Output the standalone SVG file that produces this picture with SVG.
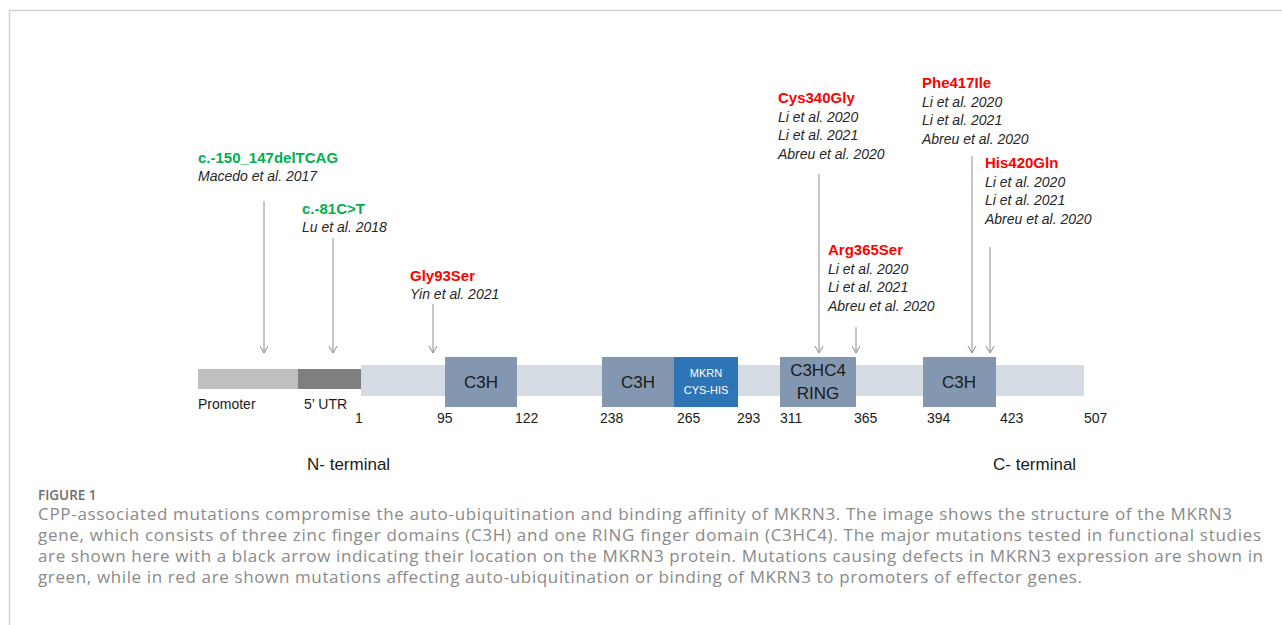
<svg xmlns="http://www.w3.org/2000/svg" width="1282" height="625" viewBox="0 0 1282 625">
<defs>
<marker id="ah" markerWidth="10" markerHeight="10" refX="8" refY="5" orient="auto" markerUnits="userSpaceOnUse" viewBox="0 0 10 10">
<path d="M1,1 L8,5 L1,9" fill="none" stroke="#8c8c8c" stroke-width="1"/>
</marker>
<style>
.lbl{font-family:"Liberation Sans",Arial,sans-serif}
.mg{font-weight:bold;font-size:15px;fill:#00b050}
.mr{font-weight:bold;font-size:15px;fill:#ff0000}
.ref{font-style:italic;font-size:14px;fill:#262626}
.num{font-size:14px;fill:#1a1a1a}
.dom{font-size:17px;fill:#1a1a1a;text-anchor:middle}
.term{font-size:17px;fill:#1a1a1a}
.cap{font-family:"Open Sans",Lato,sans-serif;font-size:17px;fill:#8a8a8a}
.arr{stroke:#8c8c8c;stroke-width:1;fill:none}
.box{fill:#8497b0}
</style>
</defs>
<rect width="1282" height="625" fill="#ffffff"/>
<path d="M9.5,625 V10.5 H1282" fill="none" stroke="#d3d3d3" stroke-width="1.5"/>

<g id="promoter"><rect x="198" y="369" width="100" height="20" fill="#bfbfbf"/><text class="lbl num" x="198" y="409">Promoter</text></g>
<g id="utr5"><rect x="298" y="369" width="63" height="20" fill="#7f7f7f"/><text class="lbl num" x="304" y="409">5’ UTR</text></g>
<g id="protein"><rect x="361" y="365" width="723" height="31" fill="#d6dce4"/></g>
<g id="c3h1"><rect class="box" x="445" y="357" width="72" height="50"/><text class="lbl dom" x="481" y="388">C3H</text></g>
<g id="c3h2"><rect class="box" x="602" y="357" width="72" height="50"/><text class="lbl dom" x="638" y="388">C3H</text></g>
<g id="mkrn"><rect x="674" y="357" width="64" height="50" fill="#2e75b6"/><text class="lbl" x="706" y="377" font-size="11" fill="#ffffff" text-anchor="middle">MKRN</text><text class="lbl" x="706" y="394" font-size="11" fill="#ffffff" text-anchor="middle">CYS-HIS</text></g>
<g id="ring"><rect class="box" x="780" y="357" width="76" height="50"/><text class="lbl dom" x="818" y="376">C3HC4</text><text class="lbl dom" x="818" y="399">RING</text></g>
<g id="c3h3"><rect class="box" x="923" y="357" width="73" height="50"/><text class="lbl dom" x="959" y="388">C3H</text></g>

<g id="positions">
<text class="lbl num" x="355" y="423">1</text>
<text class="lbl num" x="437" y="423">95</text>
<text class="lbl num" x="515" y="423">122</text>
<text class="lbl num" x="600" y="423">238</text>
<text class="lbl num" x="677" y="423">265</text>
<text class="lbl num" x="737" y="423">293</text>
<text class="lbl num" x="780" y="423">311</text>
<text class="lbl num" x="854" y="423">365</text>
<text class="lbl num" x="927" y="423">394</text>
<text class="lbl num" x="1000" y="423">423</text>
<text class="lbl num" x="1084" y="423">507</text>
</g>

<g id="m1"><text class="lbl mg" x="198" y="163">c.-150_147delTCAG</text><text class="lbl ref" x="198" y="181">Macedo et al. 2017</text></g>
<g id="m2"><text class="lbl mg" x="302" y="214">c.-81C&gt;T</text><text class="lbl ref" x="302" y="232">Lu et al. 2018</text></g>
<g id="m3"><text class="lbl mr" x="410" y="281">Gly93Ser</text><text class="lbl ref" x="410" y="299">Yin et al. 2021</text></g>
<g id="m4"><text class="lbl mr" x="778" y="103">Cys340Gly</text><text class="lbl ref" x="778" y="122">Li et al. 2020</text><text class="lbl ref" x="778" y="140">Li et al. 2021</text><text class="lbl ref" x="778" y="159">Abreu et al. 2020</text></g>
<g id="m5"><text class="lbl mr" x="828" y="255">Arg365Ser</text><text class="lbl ref" x="828" y="274">Li et al. 2020</text><text class="lbl ref" x="828" y="292">Li et al. 2021</text><text class="lbl ref" x="828" y="311">Abreu et al. 2020</text></g>
<g id="m6"><text class="lbl mr" x="922" y="88">Phe417Ile</text><text class="lbl ref" x="922" y="107">Li et al. 2020</text><text class="lbl ref" x="922" y="125">Li et al. 2021</text><text class="lbl ref" x="922" y="144">Abreu et al. 2020</text></g>
<g id="m7"><text class="lbl mr" x="985" y="168">His420Gln</text><text class="lbl ref" x="985" y="187">Li et al. 2020</text><text class="lbl ref" x="985" y="205">Li et al. 2021</text><text class="lbl ref" x="985" y="224">Abreu et al. 2020</text></g>

<g id="connectors">
<line class="arr" x1="264" y1="201" x2="264" y2="353" marker-end="url(#ah)"/>
<line class="arr" x1="333" y1="238" x2="333" y2="353" marker-end="url(#ah)"/>
<line class="arr" x1="433" y1="304" x2="433" y2="353" marker-end="url(#ah)"/>
<line class="arr" x1="819" y1="174" x2="819" y2="353" marker-end="url(#ah)"/>
<line class="arr" x1="856" y1="327" x2="856" y2="353" marker-end="url(#ah)"/>
<line class="arr" x1="972" y1="156" x2="972" y2="353" marker-end="url(#ah)"/>
<line class="arr" x1="990" y1="247" x2="990" y2="353" marker-end="url(#ah)"/>
</g>

<g id="termini">
<text class="lbl term" x="307" y="470">N- terminal</text>
<text class="lbl term" x="993" y="470">C- terminal</text>
</g>

<g id="caption">
<text x="38" y="500" font-family="'Open Sans',sans-serif" font-size="13.5" font-weight="600" fill="#6e6e6e">FIGURE 1</text>
<text class="cap" x="38" y="520" textLength="1194" lengthAdjust="spacing">CPP-associated mutations compromise the auto-ubiquitination and binding affinity of MKRN3. The image shows the structure of the MKRN3</text>
<text class="cap" x="38" y="541" textLength="1223" lengthAdjust="spacing">gene, which consists of three zinc finger domains (C3H) and one RING finger domain (C3HC4). The major mutations tested in functional studies</text>
<text class="cap" x="38" y="562" textLength="1225" lengthAdjust="spacing">are shown here with a black arrow indicating their location on the MKRN3 protein. Mutations causing defects in MKRN3 expression are shown in</text>
<text class="cap" x="38" y="583" textLength="1044" lengthAdjust="spacing">green, while in red are shown mutations affecting auto-ubiquitination or binding of MKRN3 to promoters of effector genes.</text>
</g>
</svg>
